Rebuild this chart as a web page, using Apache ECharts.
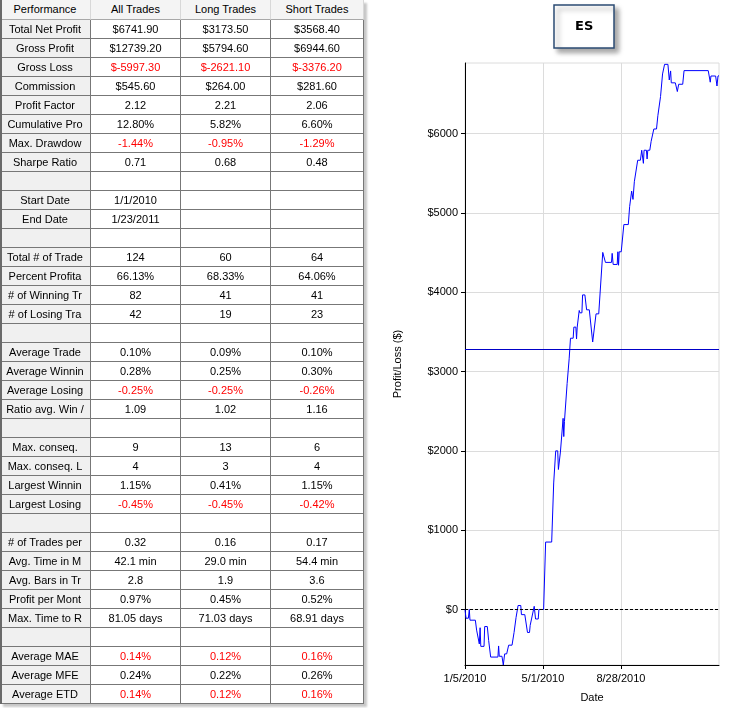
<!DOCTYPE html>
<html>
<head>
<meta charset="utf-8">
<title>ES Performance</title>
<script src="https://cdn.jsdelivr.net/npm/echarts@6/dist/echarts.min.js"></script>
<style>
    html, body {
        margin: 0;
        padding: 0;
        width: 731px;
        height: 708px;
        overflow: hidden;
        background: #fff;
        font-family: "Liberation Sans", Arial, sans-serif;
    }
    #main {
        position: absolute;
        left: 0;
        top: 0;
        width: 731px;
        height: 708px;
    }
    #perf {
        position: absolute;
        left: 0;
        top: 0;
        width: 364px;
        height: 704px;
        box-shadow: 3px 3px 2px rgba(0, 0, 0, 0.22);
        font-size: 11px;
        color: #000;
        background: #fff;
    }
    #perf .cell {
        position: absolute;
        box-sizing: border-box;
        border-right: 1px solid #777;
        border-bottom: 1px solid #777;
        text-align: center;
        white-space: nowrap;
        overflow: hidden;
    }
    #perf .head {
        background: #f4f4f4;
        border-right-color: #d8d8d8;
        border-bottom-color: #a8a8a8;
    }
    #perf .lab {
        background: #f0f0f0;
    }
    #perf .neg {
        color: #ff0000;
    }
    #perf .edge {
        position: absolute;
        left: 0;
        top: 0;
        width: 2px;
        height: 704px;
        background: #6a6a6a;
    }
</style>
</head>
<body>
<div id="main"></div>
<div id="perf"></div>
<script>
    // ---- table data ----
    const headers = ['Performance', 'All Trades', 'Long Trades', 'Short Trades'];
    const rowLabels = [
        'Total Net Profit', 'Gross Profit', 'Gross Loss', 'Commission', 'Profit Factor',
        'Cumulative Pro', 'Max. Drawdow', 'Sharpe Ratio', '',
        'Start Date', 'End Date', '',
        'Total # of Trade', 'Percent Profita', '# of Winning Tr', '# of Losing Tra', '',
        'Average Trade', 'Average Winnin', 'Average Losing', 'Ratio avg. Win /', '',
        'Max. conseq.', 'Max. conseq. L', 'Largest Winnin', 'Largest Losing', '',
        '# of Trades per', 'Avg. Time in M', 'Avg. Bars in Tr', 'Profit per Mont', 'Max. Time to R', '',
        'Average MAE', 'Average MFE', 'Average ETD'
    ];
    const allTrades = [
        '$6741.90', '$12739.20', '$-5997.30', '$545.60', '2.12', '12.80%', '-1.44%', '0.71', '',
        '1/1/2010', '1/23/2011', '',
        '124', '66.13%', '82', '42', '',
        '0.10%', '0.28%', '-0.25%', '1.09', '',
        '9', '4', '1.15%', '-0.45%', '',
        '0.32', '42.1 min', '2.8', '0.97%', '81.05 days', '',
        '0.14%', '0.24%', '0.14%'
    ];
    const longTrades = [
        '$3173.50', '$5794.60', '$-2621.10', '$264.00', '2.21', '5.82%', '-0.95%', '0.68', '',
        '', '', '',
        '60', '68.33%', '41', '19', '',
        '0.09%', '0.25%', '-0.25%', '1.02', '',
        '13', '3', '0.41%', '-0.45%', '',
        '0.16', '29.0 min', '1.9', '0.45%', '71.03 days', '',
        '0.12%', '0.22%', '0.12%'
    ];
    const shortTrades = [
        '$3568.40', '$6944.60', '$-3376.20', '$281.60', '2.06', '6.60%', '-1.29%', '0.48', '',
        '', '', '',
        '64', '64.06%', '41', '23', '',
        '0.10%', '0.30%', '-0.26%', '1.16', '',
        '6', '4', '1.15%', '-0.42%', '',
        '0.17', '54.4 min', '3.6', '0.52%', '68.91 days', '',
        '0.16%', '0.26%', '0.16%'
    ];
    // rows printed in red
    const redRows = ['Gross Loss', 'Max. Drawdow', 'Average Losing', 'Largest Losing', 'Average MAE', 'Average ETD'];

    // ---- equity curve data ----
    const dateTickIdx = [0, 116, 232];
    const dateTickLabels = ['1/5/2010', '5/1/2010', '8/28/2010'];
    const lastBar = 378;
    const pnlTicks = [0, 1000, 2000, 3000, 4000, 5000, 6000];
    const refLevel = 3276;

    const barIdx = [
        0, 1.5, 5, 6.4, 7.4, 15.4, 17.3, 20, 21.3, 22.5, 23.5, 28.3, 29.3, 33.2, 35.2, 38.2,
        49, 50, 51, 55, 57, 59, 62, 64, 65, 70, 73, 75, 76, 79, 83, 84, 89, 93, 96, 97, 99,
        101, 103, 105, 109, 110, 117, 120, 129, 132, 134, 135, 138, 139, 141, 142, 144, 146,
        147, 148, 150, 152, 153, 155, 157, 161, 162, 165, 166, 167, 169.5, 170, 171, 174, 175,
        178.4, 181, 185, 190, 192, 195, 199, 205, 207, 209, 218, 219, 220.5, 226.5, 227.5,
        228.5, 229.5, 232.5, 236.4, 243, 245, 246, 248, 250, 252, 254, 257, 261, 263, 264.5,
        265.5, 266.5, 270, 271, 272, 275, 277, 279, 281, 285, 287, 289, 291, 292.5, 294, 296,
        297, 302, 304, 306, 307, 313, 316, 318, 324, 326, 362, 363.5, 365, 366, 373, 375,
        376.5, 378
    ];
    const pnl = [
        0, -110, -110, 0, -135, -135, -260, -260, -435, -230, -465, -465, -215, -215, -390, -600,
        -600, -460, -590, -590, -700, -560, -560, -540, -450, -450, -290, -290, -100, 50, 50, -65, -65, -290, -290, -200, -120,
        -120, 40, -120, -120, 0, 0, 850, 850, 1595, 1595, 2000, 2000, 1765, 1765, 1985, 1985, 2410,
        2180, 2370, 2370, 2850, 2850, 3160, 3420, 3420, 3560, 3560, 3410, 3560, 3560, 3770, 3740, 3740, 3966,
        3966, 3778, 3778, 3372, 3372, 3727, 3727, 4502, 4502, 4376, 4376, 4490, 4350, 4350, 4510,
        4340, 4510, 4510, 4853, 4853, 5079, 5079, 5275, 5170, 5393, 5393, 5664, 5664, 5790, 5790,
        5625, 5790, 5790, 5680, 5790, 5790, 5902, 5902, 6058, 6058, 6225, 6225, 6467, 6467, 6752, 6752,
        6873, 6873, 6676, 6790, 6640, 6640, 6530, 6622, 6622, 6794, 6794, 6780, 6648, 6726, 6726, 6600,
        6726, 6730
    ];

    // ---- build the table ----
    const perf = document.getElementById('perf');
    const colLeft = [0, 91, 181, 271];
    const colWidth = [91, 90, 90, 93];
    const addCell = (text, col, top, h, cls) => {
        const d = document.createElement('div');
        d.className = 'cell ' + cls;
        d.style.left = colLeft[col] + 'px';
        d.style.width = colWidth[col] + 'px';
        d.style.top = top + 'px';
        d.style.height = h + 'px';
        d.style.lineHeight = (h - 1) + 'px';
        d.textContent = text;
        perf.appendChild(d);
    };
    headers.forEach((h, c) => addCell(h, c, 0, 20, 'head'));
    rowLabels.forEach((label, i) => {
        const top = 20 + i * 19;
        const neg = redRows.indexOf(label) >= 0 ? ' neg' : '';
        addCell(label, 0, top, 19, 'lab');
        addCell(allTrades[i], 1, top, 19, neg);
        addCell(longTrades[i], 2, top, 19, neg);
        addCell(shortTrades[i], 3, top, 19, neg);
    });
    const edge = document.createElement('div');
    edge.className = 'edge';
    perf.appendChild(edge);

    // ---- chart ----
    var myChart = echarts.init(document.getElementById('main'));
    const labelFont = {
        fontFamily: '"Liberation Sans", Arial, sans-serif',
        fontSize: 11,
        color: '#000'
    };

    var option = {
        animation: false,
        title: {
            text: 'ES',
            left: 554,
            top: 5,
            padding: [15, 21],
            backgroundColor: '#fff',
            borderColor: '#2b4b73',
            borderWidth: 1.5,
            shadowColor: 'rgba(0,0,0,0.35)',
            shadowBlur: 5,
            shadowOffsetX: 4,
            shadowOffsetY: 4,
            textStyle: {
                fontFamily: '"DejaVu Sans", sans-serif',
                fontSize: 13,
                fontWeight: 'bold',
                color: '#000'
            }
        },
        grid: {
            left: 465,
            right: 12,
            top: 63,
            bottom: 40,
            show: true,
            borderColor: '#dcdcdc',
            borderWidth: 1
        },
        xAxis: {
            type: 'value',
            min: 0,
            max: lastBar,
            interval: 116,
            name: 'Date',
            nameLocation: 'middle',
            nameGap: 27,
            nameTextStyle: labelFont,
            axisLine: { onZero: false, lineStyle: { color: '#000', width: 1 } },
            axisTick: { length: 4, customValues: dateTickIdx, lineStyle: { color: '#000' } },
            axisLabel: Object.assign({
                customValues: dateTickIdx,
                margin: 8,
                formatter: (v) => {
                    const k = dateTickIdx.indexOf(v);
                    return k >= 0 ? dateTickLabels[k] : '';
                }
            }, labelFont),
            splitLine: { lineStyle: { color: '#dcdcdc' } }
        },
        yAxis: {
            type: 'value',
            min: -700,
            max: 6890,
            name: 'Profit/Loss ($)',
            nameLocation: 'middle',
            nameGap: 62,
            nameTextStyle: labelFont,
            axisLine: { show: true, onZero: false, lineStyle: { color: '#000', width: 1 } },
            axisTick: { show: true, length: 4, customValues: pnlTicks, lineStyle: { color: '#000' } },
            axisLabel: Object.assign({
                customValues: pnlTicks,
                margin: 7,
                formatter: (v) => '$' + v
            }, labelFont),
            splitLine: { lineStyle: { color: '#dcdcdc' } }
        },
        series: [
            {
                name: 'ES',
                type: 'line',
                data: barIdx.map((b, i) => [b, pnl[i]]),
                showSymbol: false,
                symbol: 'none',
                lineStyle: { color: '#0000ff', width: 1 },
                markLine: {
                    silent: true,
                    symbol: 'none',
                    label: { show: false },
                    data: [
                        { yAxis: 0, lineStyle: { type: [3, 2], color: '#000', width: 1 } },
                        { yAxis: refLevel, lineStyle: { type: 'solid', color: '#0000c8', width: 1 } }
                    ]
                }
            }
        ]
    };

    myChart.setOption(option);
</script>
</body>
</html>
